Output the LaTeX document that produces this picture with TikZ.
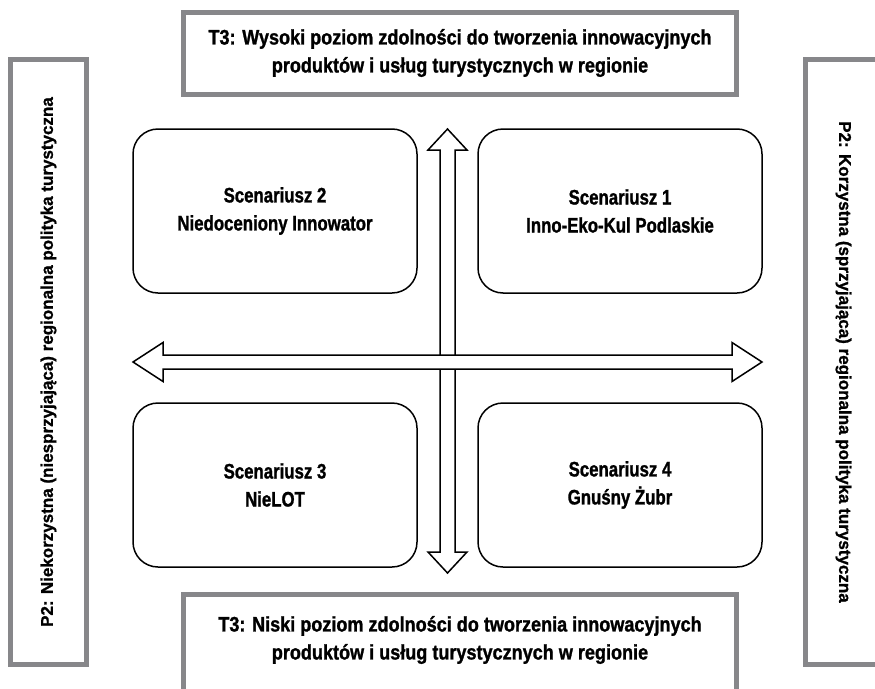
\documentclass[tikz,border=0pt]{standalone}
\usepackage{fontspec}
\newfontfamily\condfont[FakeStretch=0.8, FakeBold=1.2]{Liberation Sans}
\newfontfamily\headfont[FakeStretch=0.86, FakeBold=1.2]{Liberation Sans}
\newfontfamily\sidefont[FakeBold=1]{Liberation Sans}
\usetikzlibrary{positioning}
\definecolor{framegray}{RGB}{135,135,138}

\begin{document}
\begin{tikzpicture}[
    x=1pt, y=-1pt,
    every node/.style={font=\condfont\bfseries\fontsize{21}{28}\selectfont},
    scen/.style={rectangle, rounded corners=25pt, draw=black, line width=1.5pt, minimum width=284pt, minimum height=164pt, align=center},
    frame/.style={draw=framegray, line width=5pt},
    t3text/.style={align=center, font=\headfont\bfseries\fontsize{21}{28}\selectfont},
    t3box/.style={frame, rectangle, t3text, minimum width=553pt, minimum height=82pt},
    p2box/.style={frame, rectangle, minimum width=605pt, minimum height=76pt, font=\sidefont\bfseries\fontsize{17}{20}\selectfont},
    dblarrow/.style={draw=black, fill=white, line width=1.5pt, line join=miter},
]
\useasboundingbox (0,0) rectangle (875,688);
\clip (0,0) rectangle (875,688);

% Top and bottom axis descriptions
\node[t3box] (t3high) at (460,53) {T3: Wysoki poziom zdolności do tworzenia innowacyjnych\\produktów i usług turystycznych w regionie};
\draw[frame] (183.5,594.5) rectangle (736.5,700);
\node[t3text] (t3low) at (460,640) {T3: Niski poziom zdolności do tworzenia innowacyjnych\\produktów i usług turystycznych w regionie};

% Left and right axis descriptions
\node[p2box, rotate=90] (p2low) at (48.5,362) {P2: Niekorzystna (niesprzyjająca) regionalna polityka turystyczna};
\node[p2box, rotate=-90] (p2high) at (843.5,362) {P2: Korzystna (sprzyjająca) regionalna polityka turystyczna};

% Scenario boxes
\node[scen] (scen2) at (275,211) {Scenariusz 2\\Niedoceniony Innowator};
\node[scen, right=59.5pt of scen2] (scen1) {Scenariusz 1\\Inno-Eko-Kul Podlaskie};
\node[scen, below=108.5pt of scen2] (scen3) {Scenariusz 3\\NieLOT};
\node[scen, right=59.5pt of scen3] (scen4) {Scenariusz 4\\Gnuśny Żubr};

% Axes as double arrows
\draw[dblarrow] (440,150) -- (428,150) -- (447.5,129) -- (467,150) -- (455,150) -- (455,552) -- (467,552) -- (447.5,573) -- (428,552) -- (440,552) -- cycle;
\draw[dblarrow] (163,355) -- (163,342.5) -- (133,362) -- (163,381.5) -- (163,369) -- (732,369) -- (732,381.5) -- (762,362) -- (732,342.5) -- (732,355) -- cycle;

\end{tikzpicture}
\end{document}
